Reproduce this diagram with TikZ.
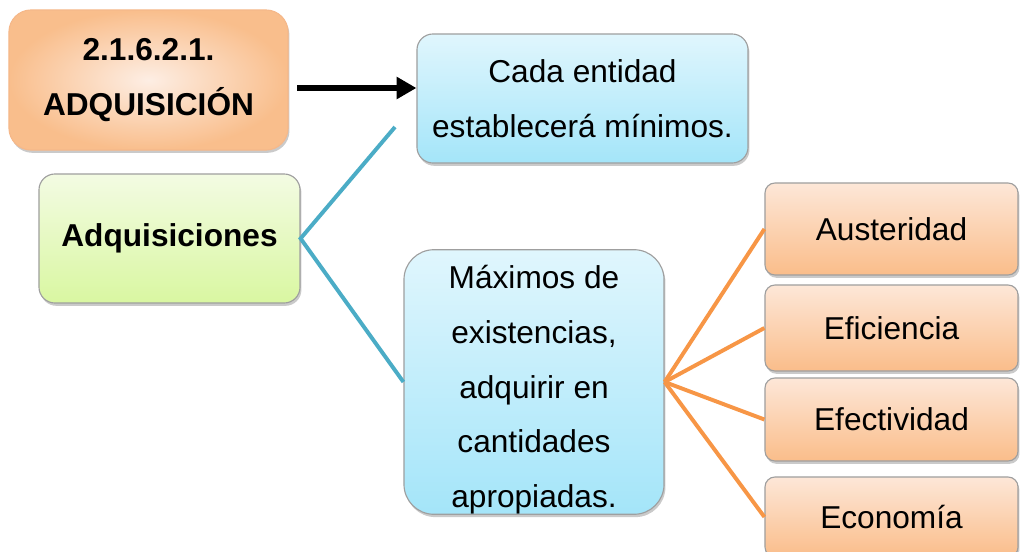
\documentclass[tikz,border=0pt]{standalone}
\usepackage{fontspec}
\setmainfont{Liberation Sans}
\usetikzlibrary{arrows.meta,shadows}

\definecolor{blueTop}{HTML}{E0F6FD}
\definecolor{blueBot}{HTML}{A4E5F9}
\definecolor{greenTop}{HTML}{F3FBE3}
\definecolor{greenBot}{HTML}{D9F7A1}
\definecolor{orangeTop}{HTML}{FDE7D8}
\definecolor{orangeBot}{HTML}{FABD8A}
\definecolor{orangeIn}{HTML}{FDEEE4}
\definecolor{orangeOut}{HTML}{F9BE8C}
\definecolor{orangeEdge}{HTML}{F5B88A}
\definecolor{blueLine}{HTML}{4BACC6}
\definecolor{orangeLine}{HTML}{F79646}

\begin{document}
\begin{tikzpicture}[x=0.025cm, y=-0.025cm,
    box/.style={draw=gray!75, line width=0.8pt, align=center, inner sep=0pt,
        font=\fontsize{22.5}{39}\selectfont,
        drop shadow={shadow xshift=1pt, shadow yshift=-2pt, opacity=0.35, fill=black!60}},
    titlebox/.style={box, draw=orangeEdge, rounded corners=0.55cm, font=\fontsize{22.5}{39}\selectfont\bfseries,
        inner color=orangeIn, outer color=orangeOut},
    bluebox/.style={box, top color=blueTop, bottom color=blueBot},
    greenbox/.style={box, rounded corners=0.4cm, font=\fontsize{22.5}{39}\selectfont\bfseries,
        top color=greenTop, bottom color=greenBot},
    leafbox/.style={box, rounded corners=0.25cm, minimum width=6.325cm,
        top color=orangeTop, bottom color=orangeBot},
    blueline/.style={draw=blueLine, line width=2.8pt},
    orangeline/.style={draw=orangeLine, line width=2.8pt}]

    \useasboundingbox (0,0) rectangle (1020,552);

    % main boxes
    \node[titlebox, minimum width=6.975cm, minimum height=3.5cm] (tit) at (148.5,80) {2.1.6.2.1.\\ADQUISICIÓN};
    \node[bluebox, rounded corners=0.4cm, minimum width=8.275cm, minimum height=3.225cm] (cada) at (582.5,98.5) {Cada entidad\\establecerá mínimos.};
    \node[greenbox, minimum width=6.525cm, minimum height=3.225cm] (adq) at (169.5,238.5) {Adquisiciones};
    \node[bluebox, rounded corners=0.75cm, minimum width=6.5cm, minimum height=6.5cm] (max) at (534,382) {\rule{0pt}{27.5pt}Máximos de\\existencias,\\adquirir en\\cantidades\\apropiadas.};

    % principles
    \node[leafbox, minimum height=2.3cm] (aus) at (891.5,229) {Austeridad};
    \node[leafbox, minimum height=2.15cm] (efi) at (891.5,328) {Eficiencia};
    \node[leafbox, minimum height=2.075cm] (efe) at (891.5,419.5) {Efectividad};
    \node[leafbox, minimum height=2cm] (eco) at (891.5,517) {Economía};

    % connectors
    \coordinate (arrowstart) at (297,88);
    \draw[line width=4.3pt, -{Triangle[length=14pt,width=15pt]}] (arrowstart) -- (cada.west |- arrowstart);

    \coordinate (bluetop) at (395,127);
    \draw[blueline] (bluetop) -- (adq.east) -- (max.west);

    \foreach \n in {aus,efi,efe,eco}
        \draw[orangeline] (max.east) -- (\n.west);

\end{tikzpicture}
\end{document}
